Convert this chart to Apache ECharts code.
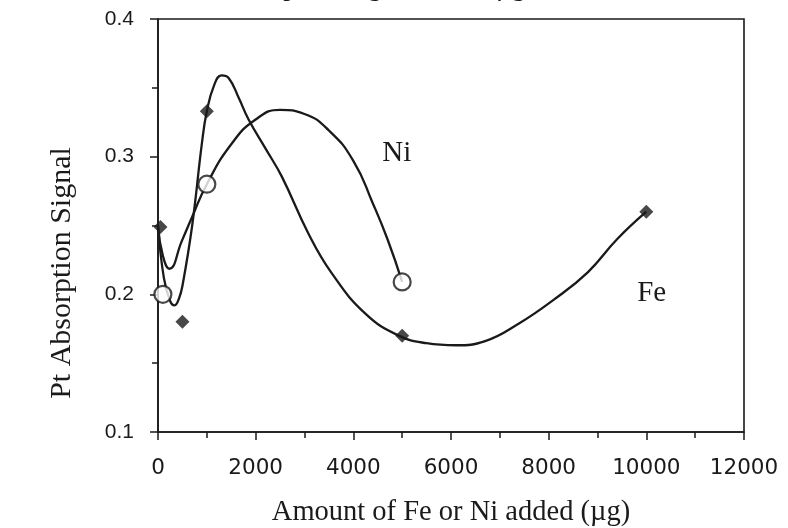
<!DOCTYPE html>
<html>
<head>
<meta charset="utf-8">
<script src="https://cdn.jsdelivr.net/npm/echarts@6/dist/echarts.min.js"></script>
<style>html,body{margin:0;padding:0;background:#fff}#c{width:788px;height:528px}</style>
</head>
<body>
<div id="c"></div>
<script>
// Measured points
const fePoints = [[50, 0.249], [500, 0.180], [1000, 0.333], [5000, 0.170], [10000, 0.260]];
const niPoints = [[100, 0.200], [1000, 0.280], [5000, 0.209]];
// Fitted curves
const feCurve = [[0, 0.25], [120, 0.212], [250, 0.195], [342, 0.192], [430, 0.197], [500, 0.206], [700, 0.25], [900, 0.31], [1000, 0.333], [1150, 0.352], [1300, 0.359], [1450, 0.357], [1650, 0.343], [1855, 0.327], [2200, 0.306], [2536, 0.2855], [3082, 0.244], [3564, 0.215], [4246, 0.186], [4930, 0.170], [5500, 0.1645], [6100, 0.163], [6700, 0.166], [7400, 0.179], [8100, 0.196], [8800, 0.216], [9400, 0.240], [10000, 0.260]];
const niCurve = [[0, 0.25], [100, 0.228], [233, 0.2186], [491, 0.239], [696, 0.256], [1000, 0.280], [1500, 0.309], [2000, 0.327], [2500, 0.334], [3000, 0.331], [3500, 0.319], [4000, 0.297], [4400, 0.266], [4700, 0.240], [5000, 0.209]];
const xTicks = {min: 0, max: 12000, interval: 2000};
const yTicks = {min: 0.1, max: 0.4, interval: 0.1};
const curveLabels = [{text: 'Ni', x: 4888, y: 0.3024}, {text: 'Fe', x: 10110, y: 0.2007}];
const titleText = 'Pt Absorption Signal with 1 µg Pt';
const xName = 'Amount of Fe or Ni added (µg)';
const yName = 'Pt Absorption Signal';

const ink = '#1a1a1a';
const chart = echarts.init(document.getElementById('c'), null, {renderer: 'canvas'});
const axisCommon = {
  axisLine: {show: true, lineStyle: {color: ink, width: 1.6}},
  axisTick: {show: true, inside: false, length: 8, lineStyle: {color: ink, width: 1.5}},
  minorTick: {show: true, splitNumber: 2, length: 6, lineStyle: {color: ink, width: 1.5}},
  splitLine: {show: false},
  minorSplitLine: {show: false},
  nameLocation: 'middle'
};
chart.setOption({
  animation: false,
  backgroundColor: '#fff',
  grid: {left: 158, right: 44, top: 19, bottom: 96, containLabel: false, outerBoundsMode: 'none', show: true, borderColor: ink, borderWidth: 1.6, backgroundColor: 'transparent'},
  xAxis: Object.assign({}, axisCommon, {
    type: 'value', min: xTicks.min, max: xTicks.max, interval: xTicks.interval,
    name: xName, nameGap: 66,
    nameTextStyle: {fontFamily: 'Liberation Serif', fontSize: 28.5, color: ink},
    axisLabel: {fontFamily: 'DejaVu Sans', fontSize: 21.5, color: ink, margin: 25, formatter: v => String(v)}
  }),
  yAxis: Object.assign({}, axisCommon, {
    type: 'value', min: yTicks.min, max: yTicks.max, interval: yTicks.interval,
    axisLabel: {fontFamily: 'Liberation Sans', fontSize: 21, color: ink, margin: 24, formatter: v => v.toFixed(1)}
  }),
  series: [
    {type: 'line', data: feCurve, smooth: 0.45, showSymbol: false, symbol: 'none', lineStyle: {color: ink, width: 2.3}, z: 2},
    {type: 'line', data: niCurve, smooth: 0.5, showSymbol: false, symbol: 'none', lineStyle: {color: ink, width: 2.3}, z: 2},
    {type: 'scatter', data: fePoints, symbol: 'diamond', symbolSize: 14, itemStyle: {color: ink}, z: 3},
    {type: 'scatter', data: niPoints, symbol: 'circle', symbolSize: 17, itemStyle: {color: '#fff', borderColor: ink, borderWidth: 2.2}, z: 3}
  ]
});
const g = curveLabels.map(l => {
  const p = chart.convertToPixel({gridIndex: 0}, [l.x, l.y]);
  return {type: 'text', x: p[0], y: p[1], style: {text: l.text, font: '29px "Liberation Serif"', fill: ink, textAlign: 'center', textVerticalAlign: 'middle'}};
});
g.push({type: 'text', x: 62, y: 273, rotation: Math.PI / 2, style: {text: yName, font: '30px "Liberation Serif"', fill: ink, textAlign: 'center', textVerticalAlign: 'middle'}});
g.push({type: 'text', x: 188, y: -12, style: {text: titleText, font: '27px "Liberation Serif"', fill: ink, textAlign: 'left', textVerticalAlign: 'middle'}});
chart.setOption({graphic: g});
</script>
</body>
</html>
